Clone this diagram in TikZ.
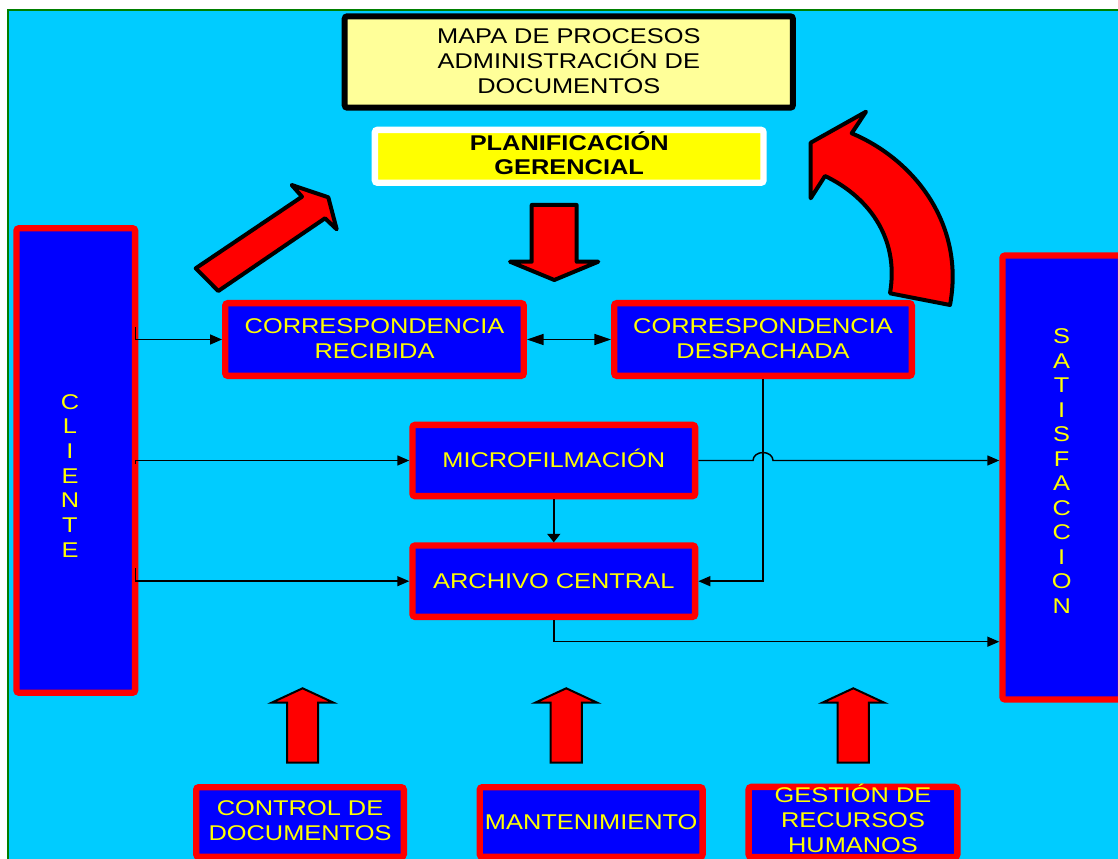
\documentclass[tikz,border=0pt]{standalone}
\usepackage{fontspec}
\setmainfont{Liberation Sans}[FakeStretch=1.19]
\usetikzlibrary{arrows.meta}

\definecolor{sky}{HTML}{00CCFF}
\definecolor{boxblue}{HTML}{0000FF}
\definecolor{boxred}{HTML}{FF0000}
\definecolor{txtyellow}{HTML}{FFFF00}
\definecolor{paleyellow}{HTML}{FFFF99}
\definecolor{framegreen}{HTML}{008000}

\begin{document}
\begin{tikzpicture}[x=0.75pt,y=-0.75pt,
  proc/.style={draw=boxred, fill=boxblue, line width=4.8pt, rounded corners=2pt,
    text=txtyellow, align=center, inner sep=0pt,
    font=\fontsize{16}{18.75}\selectfont},
  column/.style={text=txtyellow, align=center, inner sep=0pt},
  titlebox/.style={draw=black, fill=paleyellow, line width=4.5pt, rounded corners=2pt,
    align=center, inner sep=0pt, font=\fontsize{16}{18.75}\selectfont},
  planbox/.style={draw=white, fill=txtyellow, line width=4.8pt, rounded corners=2pt,
    align=center, inner sep=0pt, font=\fontsize{16}{18}\selectfont\bfseries},
  conn/.style={draw=black, line width=1.1pt, -{Triangle[length=9pt,width=7.5pt]}},
  shortconn/.style={draw=black, line width=1.1pt, -{Triangle[length=6.4pt,width=9.8pt]}},
  twoway/.style={draw=black, line width=1.1pt,
    {Triangle[length=12.5pt,width=8.3pt]}-{Triangle[length=12.5pt,width=8.3pt]}},
  blockarrow/.style={draw=black, fill=boxred, line width=3pt, line join=round},
  uparrow/.style={draw=black, fill=boxred, line width=1.5pt, line join=miter}
]
\useasboundingbox (0,0) rectangle (1118,859);

% page background with the green frame line
\fill[white] (0,0) rectangle (1118,859);
\fill[sky] (8,10) rectangle (1118,859);
\draw[framegreen, line width=1pt] (8,859) -- (8,10) -- (1118,10);

% heading and management planning (text box heights measured from the last baseline)
\node[titlebox, minimum width=336.2pt, minimum height=68.6pt,
  text height=49pt, text depth=2pt] (title) at (568.8,62)
  {MAPA DE PROCESOS\\ADMINISTRACIÓN DE\\DOCUMENTOS};
\node[planbox, minimum width=291.5pt, minimum height=39.7pt,
  text height=29.5pt, text depth=2.9pt] (plan) at (569.2,156.3)
  {PLANIFICACIÓN\\GERENCIAL};

% side boxes
\node[proc, minimum width=89pt, minimum height=348.4pt] (cli) at (75.8,460.5) {};
\node[column, font=\fontsize{16}{18.5}\selectfont] (clitext) at (70,475.8)
  {C\\L\\I\\E\\N\\T\\E};
\node[proc, minimum width=89pt, minimum height=333pt] (sat) at (1061.8,477.5) {};
\node[column, font=\fontsize{16}{18.4}\selectfont] (sattext) at (1061.7,471)
  {S\\A\\T\\I\\S\\F\\A\\C\\C\\I\\O\\N};

% process boxes
\node[proc, minimum width=223.9pt, minimum height=54.5pt,
  text height=30.25pt, text depth=2.05pt] (rec) at (374.5,339.5)
  {CORRESPONDENCIA\\RECIBIDA};
\node[proc, minimum width=223.2pt, minimum height=54.5pt,
  text height=30.25pt, text depth=2.05pt] (des) at (763,339.5)
  {CORRESPONDENCIA\\DESPACHADA};
\node[proc, minimum width=212pt, minimum height=53.5pt, text height=10.4pt, text depth=0pt]
  (mic) at (553.8,460.5) {MICROFILMACIÓN};
\node[proc, minimum width=212pt, minimum height=53.5pt, text height=10.4pt, text depth=0pt]
  (arc) at (553.8,581.2) {ARCHIVO CENTRAL};

% support boxes
\node[proc, minimum width=155.7pt, minimum height=52.2pt,
  text height=30.25pt, text depth=3.25pt] (ctl) at (300,822)
  {CONTROL DE\\DOCUMENTOS};
\node[proc, minimum width=167.2pt, minimum height=52.2pt, text height=10.9pt, text depth=0pt]
  (man) at (591.2,822) {MANTENIMIENTO};
\node[proc, minimum width=156.5pt, minimum height=52.2pt,
  text height=49pt, text depth=3.6pt] (rrh) at (853,822)
  {GESTIÓN DE\\RECURSOS\\HUMANOS};

% connectors
\coordinate (c1) at (135.5,327);
\coordinate (c2) at (135.5,464);
\coordinate (c3) at (135.5,568);
\draw[conn] (c1) |- (rec.west);
\draw[conn] (c2) |- (mic.west);
\draw[conn] (c3) |- (arc.west);
\draw[twoway] (rec.east) -- (des.west);
\draw[shortconn] (mic.south) -- (arc.north);
\draw[conn] (des.south) |- (arc.east);
\coordinate (hop) at (des.south |- mic.east);
\draw[conn] (mic.east) -- ([xshift=-7.5pt]hop)
  arc[start angle=180, end angle=0, x radius=7.5pt, y radius=6pt]
  -- (sat.west |- mic.east);
\path (sat.west) ++(0,164.2) coordinate (satlow);
\draw[conn] (arc.south) |- (satlow);

% block arrows around the planning box
\draw[blockarrow] (195.7,268.3) -- (302,196.7) -- (291.7,185) -- (328.3,197.3)
  -- (336.7,229.3) -- (325,218.3) -- (218.3,291) -- cycle;
\draw[blockarrow] (531.7,205) -- (576.7,205) -- (576.7,261.7) -- (598.3,261.7)
  -- (554.3,280) -- (510,261.7) -- (531.7,261.7) -- cycle;
\draw[blockarrow] (851.7,133.3) -- (866,111.7) -- (810.7,142.7) -- (810.7,198.3)
  -- (825,176) .. controls (865,195) and (900,235) .. (890,293.3)
  -- (950,305) .. controls (965,225) and (915,160) .. (851.7,133.3) -- cycle;

% upward arrows from the support boxes
\coordinate (u1) at (302.6,688.3);
\coordinate (u2) at (566.2,688.3);
\coordinate (u3) at (853.3,688.3);
\foreach \u in {u1,u2,u3}{
  \draw[uparrow] (\u) -- ++(31,14.4) -- ++(-15.4,0) -- ++(0,60) -- ++(-31.2,0)
    -- ++(0,-60) -- ++(-15.4,0) -- cycle;
}
\end{tikzpicture}
\end{document}
